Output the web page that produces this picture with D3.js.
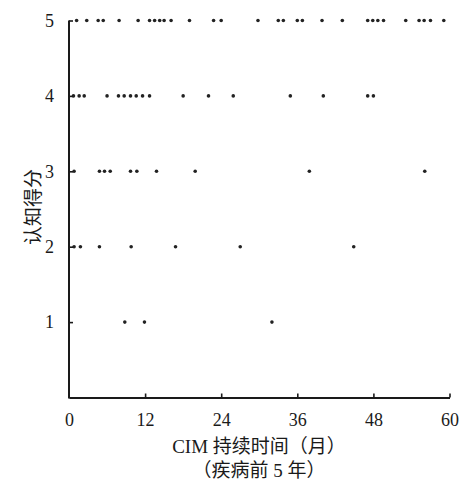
<!DOCTYPE html>
<html>
<head>
<meta charset="utf-8">
<script src="https://cdn.jsdelivr.net/npm/d3@7"></script>
<style>
  html, body { margin: 0; padding: 0; background: #fff; }
  svg { display: block; }
  text { font-family: "Liberation Serif", "Noto Sans CJK SC", serif; fill: #1a1a1a; }
</style>
</head>
<body>
<svg id="chart" width="463" height="484"></svg>
<script>
// CIM duration (months) for each cognitive score level
const score5 = [1.2, 2.8, 4.6, 5.4, 7.9, 10.9, 12.7, 13.5, 14.3, 15.0, 16.1, 19.0, 22.8, 24.0, 29.8,
                33.0, 33.8, 36.0, 36.8, 39.9, 43.1, 47.1, 47.9, 48.7, 49.6, 53.1, 55.2, 56.0, 57.0, 59.1];
const score4 = [0.7, 1.6, 2.4, 6.0, 7.8, 8.7, 9.7, 10.6, 11.6, 12.7, 18.0, 22.0, 25.9, 34.9, 40.1, 47.1, 48.0];
const score3 = [0.8, 4.8, 5.6, 6.5, 9.7, 10.7, 13.8, 19.9, 37.9, 56.1];
const score2 = [0.8, 1.8, 4.8, 9.8, 16.8, 27.0, 44.9];
const score1 = [8.8, 11.9, 32.0];

const xTicks = [0, 12, 24, 36, 48, 60];
const yTicks = [1, 2, 3, 4, 5];
const xTitle1 = "CIM 持续时间（月）";
const xTitle2 = "（疾病前 5 年）";
const yTitle = "认知得分";

const series = [
  {score: 5, months: score5},
  {score: 4, months: score4},
  {score: 3, months: score3},
  {score: 2, months: score2},
  {score: 1, months: score1}
];

const svg = d3.select("#chart");
const x = d3.scaleLinear().domain([0, 60]).range([69, 449.5]);
const y = d3.scaleLinear().domain([0, 5]).range([397.5, 20.5]);

const points = series.flatMap(s => s.months.map(m => ({m, s: s.score})));

svg.append("g").selectAll("circle").data(points).join("circle")
  .attr("cx", d => x(d.m))
  .attr("cy", d => y(d.s))
  .attr("r", 1.8)
  .attr("fill", "#222");

const xAxis = svg.append("g")
  .attr("transform", `translate(0,${y(0)})`)
  .call(d3.axisBottom(x).tickValues(xTicks).tickFormat(d3.format("d"))
        .tickSizeInner(-4).tickSizeOuter(0).tickPadding(16));
const yAxis = svg.append("g")
  .attr("transform", `translate(${x(0)},0)`)
  .call(d3.axisLeft(y).tickValues(yTicks).tickFormat(d3.format("d"))
        .tickSizeInner(-4).tickSizeOuter(0).tickPadding(15));

[xAxis, yAxis].forEach(g => {
  g.select(".domain").attr("stroke", "#1a1a1a").attr("stroke-width", 2);
  g.selectAll(".tick line").attr("stroke", "#1a1a1a").attr("stroke-width", 1.6);
  g.selectAll(".tick text").attr("font-size", 18).attr("font-family", "Liberation Serif").attr("fill", "#1a1a1a");
});
xAxis.selectAll(".tick").filter(d => d === 0).select("line").remove();
yAxis.select(".domain").attr("d", `M0,${y(5)}V${y(0) + 1}`);

svg.append("text")
  .attr("x", 259).attr("y", 453)
  .attr("text-anchor", "middle")
  .attr("font-size", 19)
  .text(xTitle1);
svg.append("text")
  .attr("x", 259).attr("y", 477)
  .attr("text-anchor", "middle")
  .attr("font-size", 19)
  .text(xTitle2);
svg.append("text")
  .attr("transform", "translate(33,207) rotate(-90)")
  .attr("text-anchor", "middle")
  .attr("dominant-baseline", "central")
  .attr("font-size", 19)
  .text(yTitle);
</script>
</body>
</html>
